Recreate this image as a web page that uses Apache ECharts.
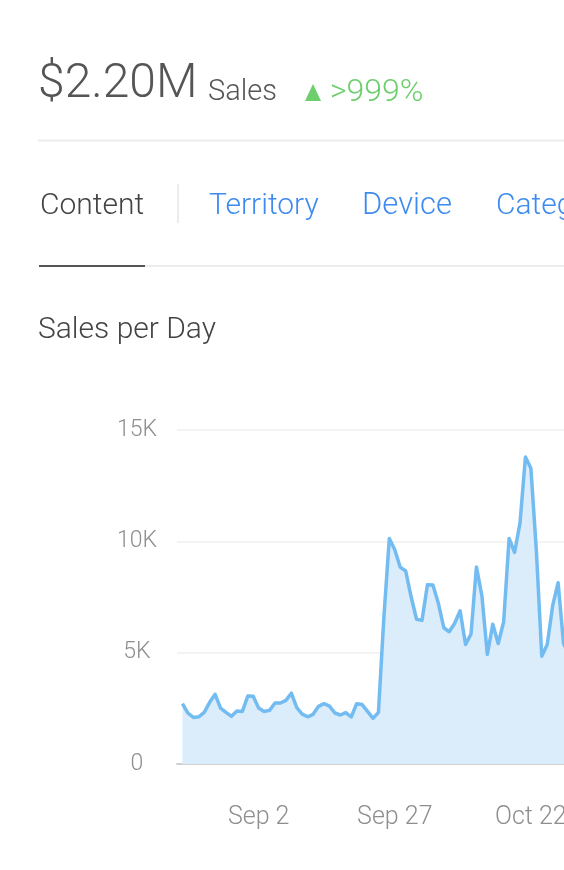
<!DOCTYPE html>
<html>
<head>
<meta charset="utf-8">
<script src="https://cdn.jsdelivr.net/npm/echarts@6/dist/echarts.min.js"></script>
<style>
html,body{margin:0;padding:0;overflow:hidden;background:#fff;width:564px;height:870px;}
#chart{width:600px;height:870px;}
</style>
</head>
<body>
<div id="chart"></div>
<script>
// Header texts
const headline = "$2.20M";
const headlineLabel = "Sales";
const changeText = ">999%";
const tabs = ["Content", "Territory", "Device", "Category"];
const chartTitle = "Sales per Day";

// Axis
const startDate = [2019, 7, 18]; // first (empty) category: Aug 18
const shownDates = ["Sep 2", "Sep 27", "Oct 22"];
const yTicks = [0, 5000, 10000, 15000];
const yTickLabels = ["0", "5K", "10K", "15K"];

// Daily sales values (Aug 19 onward)
const sales = [
  2710, 2290, 2090, 2120, 2320, 2770, 3130, 2510, 2320, 2140,
  2380, 2360, 3050, 3040, 2510, 2360, 2410, 2740, 2740, 2860,
  3180, 2530, 2240, 2120, 2230, 2590, 2710, 2600, 2290, 2200,
  2310, 2110, 2710, 2670, 2360, 2050, 2320, 6600, 10130, 9620,
  8840, 8670, 7510, 6500, 6450, 8050, 8040, 7220, 6120, 5940,
  6320, 6880, 5370, 5830, 8850, 7550, 4920, 6280, 5410, 6390,
  10130, 9500, 10820, 13790, 13280, 9600, 4840, 5370, 7110, 8140,
  5410, 4900
];

const months = ["Jan","Feb","Mar","Apr","May","Jun","Jul","Aug","Sep","Oct","Nov","Dec"];
const categories = [];
for (let i = 0; i <= sales.length; i++) {
  const d = new Date(startDate[0], startDate[1], startDate[2] + i);
  categories.push(months[d.getMonth()] + " " + d.getDate());
}
const seriesData = [null].concat(sales);

const FONT = "Roboto";
const chart = echarts.init(document.getElementById('chart'), null, {renderer: 'canvas'});
chart.setOption({
  animation: false,
  backgroundColor: '#fff',
  grid: {left: 177, right: 31, top: 430, bottom: 106},
  xAxis: {
    type: 'category',
    data: categories,
    boundaryGap: false,
    axisLine: {show: true, lineStyle: {color: '#d0d0d0', width: 2}},
    axisTick: {show: false},
    splitLine: {show: false},
    axisLabel: {
      interval: (idx, val) => shownDates.indexOf(val) >= 0,
      color: '#8e8e8e', fontFamily: FONT, fontWeight: 300, fontSize: 25, margin: 41
    }
  },
  yAxis: {
    type: 'value', min: yTicks[0], max: yTicks[yTicks.length - 1], interval: yTicks[1] - yTicks[0],
    axisLine: {show: false}, axisTick: {show: false},
    splitLine: {lineStyle: {color: '#efefef', width: 1.5}},
    axisLabel: {
      align: 'center', margin: 40, color: '#8e8e8e', fontFamily: FONT, fontWeight: 300, fontSize: 23,
      padding: [4, 0, 0, 0],
      formatter: v => yTickLabels[yTicks.indexOf(v)]
    }
  },
  series: [{
    type: 'line', data: seriesData, symbol: 'none', smooth: false,
    lineStyle: {color: '#73bcf2', width: 3.5, join: 'round'},
    areaStyle: {color: '#dbecfb', opacity: 1}
  }],
  graphic: [
    {type: 'text', left: 38, top: 61, style: {text: headline, fill: '#555', font: '300 48px ' + FONT}},
    {type: 'text', left: 208, top: 78, style: {text: headlineLabel, fill: '#555', font: '300 29px ' + FONT}},
    {type: 'polygon', shape: {points: [[313, 84], [305, 101], [321, 101]]}, style: {fill: '#6cce6c'}},
    {type: 'text', left: 330, top: 77, style: {text: changeText, fill: '#6cce6c', font: '300 32px ' + FONT}},
    {type: 'line', shape: {x1: 38, y1: 140.5, x2: 600, y2: 140.5}, style: {stroke: '#ececec', lineWidth: 2}},
    {type: 'text', left: 40, top: 191, style: {text: tabs[0], fill: '#444', font: '300 30px ' + FONT}},
    {type: 'line', shape: {x1: 178, y1: 184, x2: 178, y2: 223}, style: {stroke: '#ececec', lineWidth: 2}},
    {type: 'text', left: 209, top: 191, style: {text: tabs[1], fill: '#3d8bf0', font: '300 30px ' + FONT}},
    {type: 'text', left: 362, top: 191, style: {text: tabs[2], fill: '#3d8bf0', font: '300 31px ' + FONT}},
    {type: 'text', left: 496, top: 191, style: {text: tabs[3], fill: '#3d8bf0', font: '300 30px ' + FONT}},
    {type: 'line', shape: {x1: 145, y1: 266, x2: 600, y2: 266}, style: {stroke: '#ececec', lineWidth: 2}},
    {type: 'line', shape: {x1: 39, y1: 266, x2: 145, y2: 266}, style: {stroke: '#555', lineWidth: 2}},
    {type: 'text', left: 38, top: 315, style: {text: chartTitle, fill: '#444', font: '300 30px ' + FONT}}
  ]
});
</script>
</body>
</html>
